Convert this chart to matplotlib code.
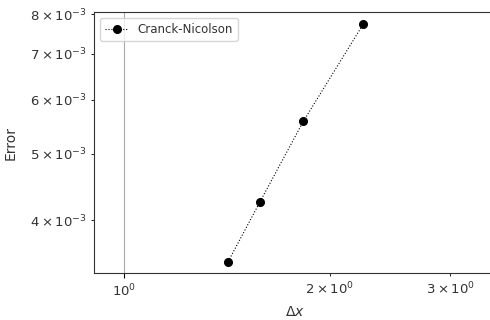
import matplotlib
matplotlib.use('Agg')
import matplotlib.pyplot as plt

# grid spacing and error for Cranck-Nicolson
dx = [1.42, 1.58, 1.83, 2.24]
err = [3.48e-3, 4.25e-3, 5.58e-3, 7.74e-3]

plt.rcParams['text.color'] = '#333333'
plt.rcParams['axes.labelcolor'] = '#333333'
plt.rcParams['xtick.labelcolor'] = '#333333'
plt.rcParams['ytick.labelcolor'] = '#333333'
plt.rcParams['axes.edgecolor'] = '#333333'
plt.rcParams['xtick.labelsize'] = 9.5
plt.rcParams['ytick.labelsize'] = 9.5

fig = plt.figure(figsize=(4.9, 3.2), dpi=100)
ax = fig.add_axes([0.192, 0.147, 0.82, 0.815])

ax.axvline(1.0, color='darkgray', lw=0.8)
ax.loglog(dx, err, 'o:', color='black', lw=0.8, ms=5.5, label='Cranck-Nicolson')

ax.set_xlim(0.904, 3.5)
ax.set_ylim(3.35e-3, 8.05e-3)
ax.set_xlabel(r'$\Delta x$')
ax.set_ylabel('Error', labelpad=9)
ax.legend(loc='upper left', fontsize=8.5)

fig.savefig('out.png', dpi=100)
